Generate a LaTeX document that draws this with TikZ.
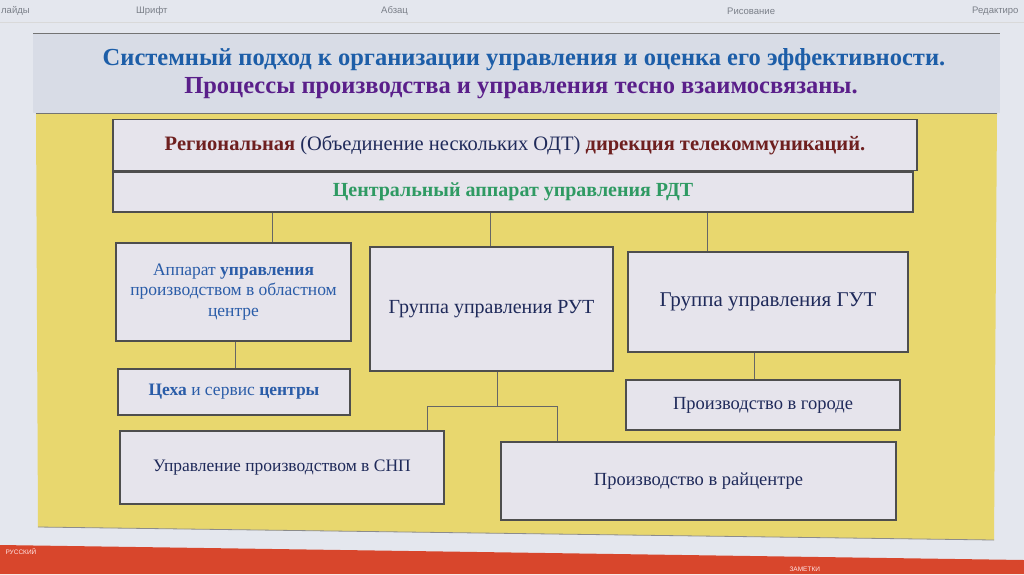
\documentclass[tikz,border=0pt]{standalone}
\usepackage{fontspec}
\setmainfont{Liberation Serif}
\newfontfamily\uifont{Liberation Sans}
\definecolor{screenbg}{HTML}{E4E7EE}
\definecolor{titleband}{HTML}{D8DCE6}
\definecolor{titleblue}{HTML}{1D5EA8}
\definecolor{titlepurple}{HTML}{5A1F8A}
\definecolor{slideyellow}{HTML}{E8D76E}
\definecolor{boxfill}{HTML}{E6E4EC}
\definecolor{boxborder}{HTML}{4E4E4E}
\definecolor{maroon}{HTML}{6E1F1F}
\definecolor{rdtgreen}{HTML}{2F9A63}
\definecolor{navytext}{HTML}{1F2A5A}
\definecolor{boxblue}{HTML}{2A5CA8}
\definecolor{taskred}{HTML}{D8462C}
\definecolor{uigray}{HTML}{7A7F88}
\begin{document}
\begin{tikzpicture}[x=1pt,y=-1pt,
  orgbox/.style={draw=boxborder,line width=1.3pt,fill=boxfill,inner sep=0pt},
  link/.style={draw=black!60,line width=0.6pt},
  uilabel/.style={font=\uifont\fontsize{9.5}{11}\selectfont,text=uigray,anchor=west,inner sep=0pt},
  bigtext/.style={font=\fontsize{20}{23}\selectfont,text=navytext,align=center},
  smalltext/.style={font=\fontsize{17.5}{20}\selectfont,text=navytext,align=center}]
\useasboundingbox (0,0) rectangle (1024,574);
% screen background
\fill[screenbg] (0,0) rectangle (1024,574);
% ribbon labels
\node[uilabel] (rb1) at (1,11) {лайды};
\node[uilabel] (rb2) at (136,11) {Шрифт};
\node[uilabel] (rb3) at (381,11) {Абзац};
\node[uilabel] (rb4) at (727,11) {Рисование};
\node[uilabel] (rb5) at (972,11) {Редактиро};
\draw[black!15] (0,22) -- (1024,22);
% slide title band
\fill[titleband] (33,33) rectangle (1000,113);
\draw[black!55,line width=0.8pt] (33,33) -- (1000,33);
\node[font=\bfseries\fontsize{24.5}{28}\selectfont,text=titleblue] (t1) at (524,60)
  {Системный подход к организации управления и оценка его эффективности.};
\node[font=\bfseries\fontsize{24.5}{28}\selectfont,text=titlepurple] (t2) at (521,88)
  {Процессы производства и управления тесно взаимосвязаны.};
% yellow area
\fill[slideyellow] (36,113) -- (997,113) -- (994,540) -- (38,527) -- cycle;
\draw[black!55,line width=0.8pt] (36,113) -- (997,113);
\draw[black!45,line width=0.8pt] (38,527) -- (994,540);
% taskbar
\fill[taskred] (0,545) -- (1024,560) -- (1024,574) -- (0,574) -- cycle;
\node[font=\uifont\fontsize{6.5}{7}\selectfont,text=white!90!red,anchor=west] (lang) at (2,552) {РУССКИЙ};
\node[font=\uifont\fontsize{6.5}{7}\selectfont,text=white!90!red,anchor=west] (notes) at (786,569) {ЗАМЕТКИ};
% boxes
\node[orgbox,minimum width=804pt,minimum height=51pt] (reg) at (515,145)
  {\fontsize{20.5}{23}\selectfont\textcolor{maroon}{\bfseries Региональная} \textcolor{navytext}{(Объединение нескольких ОДТ)} \textcolor{maroon}{\bfseries дирекция телекоммуникаций.}};
\node[orgbox,minimum width=800pt,minimum height=40pt,font=\bfseries\fontsize{20}{23}\selectfont,text=rdtgreen] (central) at (513,192)
  {Центральный аппарат управления РДТ};
\node[orgbox,minimum width=235pt,minimum height=98pt,font=\fontsize{17.5}{20.5}\selectfont,text=boxblue,align=center] (app) at (233.5,292)
  {Аппарат \textbf{управления}\\производством в областном\\центре};
\node[orgbox,minimum width=243pt,minimum height=124pt,bigtext] (rut) at (491.5,309)
  {Группа управления РУТ};
\node[orgbox,minimum width=280pt,minimum height=100pt,font=\fontsize{21}{24}\selectfont,text=navytext] (gut) at (768,302)
  {Группа управления ГУТ};
\node[orgbox,minimum width=232pt,minimum height=46pt,font=\fontsize{17.5}{20}\selectfont,text=boxblue] (ceh) at (234,392)
  {\textbf{Цеха} и сервис \textbf{центры}};
\node[orgbox,minimum width=274pt,minimum height=50pt,font=\fontsize{18.5}{21}\selectfont,text=navytext] (city) at (763,405)
  {Производство в городе};
\node[orgbox,minimum width=324pt,minimum height=73pt,smalltext] (snp) at (282,467.5)
  {Управление производством в СНП};
\node[orgbox,minimum width=395pt,minimum height=78pt,font=\fontsize{18.5}{21}\selectfont,text=navytext] (rai) at (698.5,481)
  {Производство в райцентре};
% connectors
\draw[link] (central.south -| 272,0) -- (app.north -| 272,0);
\draw[link] (central.south -| 490,0) -- (rut.north -| 490,0);
\draw[link] (central.south -| 707,0) -- (gut.north -| 707,0);
\draw[link] (app.south -| 235,0) -- (ceh.north -| 235,0);
\draw[link] (gut.south -| 754,0) -- (city.north -| 754,0);
\coordinate (split) at (497,406);
\draw[link] (rut.south -| split) -- (split);
\draw[link] (snp.north -| 427,0) -- (427,406) -- (557,406) -- (rai.north -| 557,0);
\end{tikzpicture}
\end{document}
